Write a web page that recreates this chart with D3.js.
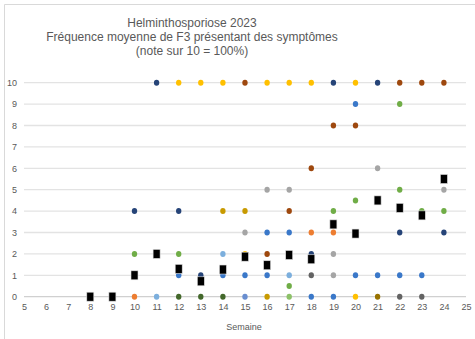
<!DOCTYPE html>
<html>
<head>
<meta charset="utf-8">
<script src="https://cdn.jsdelivr.net/npm/d3@7"></script>
<style>
body { margin: 0; background: #fff; }
text { font-family: "Liberation Sans", Arial, sans-serif; fill: #595959; }
</style>
</head>
<body>
<div id="chart"></div>
<script>
// titres
var titleLines = ["Helminthosporiose 2023", "Fréquence moyenne de F3 présentant des symptômes", "(note sur 10 = 100%)"];
var xLabel = "Semaine";
var xTicks = d3.range(5, 26);
var yTicks = d3.range(0, 11);

// moyenne (carres noirs)
var weeks = [8, 9, 10, 11, 12, 13, 14, 15, 16, 17, 18, 19, 20, 21, 22, 23, 24];
var means = [0, 0, 1, 2, 1.3, 0.72, 1.27, 1.87, 1.47, 1.95, 1.75, 3.38, 2.95, 4.5, 4.15, 3.8, 5.5];

// parcelles, groupees par couleur : [semaine, note]
var darkBlue = [[10, 4], [11, 10], [12, 4], [13, 1], [18, 2], [19, 10], [21, 10], [22, 3], [24, 3]];
var blue = [[12, 1], [14, 1], [15, 1], [16, 1], [16, 3], [17, 3], [18, 0], [19, 0], [20, 1], [21, 1], [22, 1], [23, 1], [20, 9]];
var cornflower = [[15, 0]];
var lightBlue = [[11, 0], [14, 2], [17, 1]];
var orange = [[10, 0], [18, 3], [19, 3]];
var brown = [[15, 10], [22, 10], [23, 10], [24, 10], [19, 8], [20, 8], [18, 6], [17, 4], [16, 2]];
var yellow = [[12, 10], [13, 10], [14, 10], [16, 10], [17, 10], [18, 10], [20, 10], [15, 2], [20, 0]];
var gold = [[14, 4], [15, 4], [16, 0]];
var olive = [[21, 0]];
var green = [[10, 2], [12, 2], [17, 0.5], [19, 4], [20, 4.5], [22, 5], [22, 9], [23, 4], [24, 4]];
var darkGreen = [[12, 0], [13, 0], [14, 0]];
var lightGreen = [[17, 0]];
var gray = [[15, 3], [16, 5], [17, 5], [21, 6], [24, 5], [19, 1], [19, 2]];
var darkGray = [[18, 1], [22, 0], [23, 0]];

var groups = [
	{ pts: gray, color: "#A5A5A5" },
	{ pts: darkGray, color: "#636363" },
	{ pts: gold, color: "#C89A00" },
	{ pts: olive, color: "#997300" },
	{ pts: yellow, color: "#FFC000" },
	{ pts: orange, color: "#ED7D31" },
	{ pts: brown, color: "#9E480E" },
	{ pts: darkGreen, color: "#43682B" },
	{ pts: green, color: "#70AD47" },
	{ pts: lightGreen, color: "#8CC168" },
	{ pts: lightBlue, color: "#7CAFDD" },
	{ pts: cornflower, color: "#698ED0" },
	{ pts: blue, color: "#3A78C9" },
	{ pts: darkBlue, color: "#264478" }
];

var width = 475, height = 339;
var svg = d3.select("#chart").append("svg")
	.attr("width", width)
	.attr("height", height);

// cadre du graphique
svg.append("path")
	.attr("d", "M4.5," + height + "V4.5H" + width)
	.attr("fill", "none")
	.attr("stroke", "#D9D9D9");

var x = d3.scaleLinear().domain([5, 25]).range([24, 466]);
var y = d3.scaleLinear().domain([0, 10]).range([296.7, 82.7]);

// lignes de grille
svg.append("g")
	.selectAll("line")
	.data(yTicks)
	.join("line")
	.attr("x1", x(5)).attr("x2", x(25))
	.attr("y1", function(d) { return y(d); })
	.attr("y2", function(d) { return y(d); })
	.attr("stroke", function(d) { return d == 0 ? "#D0D0D0" : "#E3E3E3"; })
	.attr("stroke-width", 1.3);

// axe x
var xAxis = svg.append("g")
	.attr("transform", "translate(0," + y(0) + ")")
	.call(d3.axisBottom(x).tickValues(xTicks).tickFormat(d3.format("d")).tickSize(0).tickPadding(7));
xAxis.select(".domain").remove();
xAxis.selectAll("text").style("font-size", "9px").attr("fill", "#7F7F7F");

// axe y
var yAxis = svg.append("g")
	.attr("transform", "translate(" + x(5) + ",0)")
	.call(d3.axisLeft(y).tickValues(yTicks).tickFormat(d3.format("d")).tickSize(0).tickPadding(7));
yAxis.select(".domain").remove();
yAxis.selectAll("text").style("font-size", "9px").attr("fill", "#7F7F7F");

// titre
svg.append("g")
	.selectAll("text")
	.data(titleLines)
	.join("text")
	.attr("x", 192)
	.attr("y", function(d, i) { return 27 + i * 14; })
	.attr("text-anchor", "middle")
	.style("font-size", "12px")
	.text(function(d) { return d; });

svg.append("text")
	.attr("x", 244)
	.attr("y", 330)
	.attr("text-anchor", "middle")
	.style("font-size", "9px")
	.attr("fill", "#7F7F7F")
	.text(xLabel);

// points des parcelles
groups.forEach(function(g) {
	svg.append("g")
		.selectAll("ellipse")
		.data(g.pts)
		.join("ellipse")
		.attr("cx", function(d) { return x(d[0]); })
		.attr("cy", function(d) { return y(d[1]); })
		.attr("rx", 2.7)
		.attr("ry", 3)
		.attr("fill", g.color);
});

// moyenne
svg.append("g")
	.selectAll("rect")
	.data(weeks)
	.join("rect")
	.attr("x", function(d) { return x(d) - 3.5; })
	.attr("y", function(d, i) { return y(means[i]) - 4.5; })
	.attr("width", 7)
	.attr("height", 9)
	.attr("fill", "#000")
	.attr("stroke", "#ddd")
	.attr("stroke-width", 0.6);
</script>
</body>
</html>
